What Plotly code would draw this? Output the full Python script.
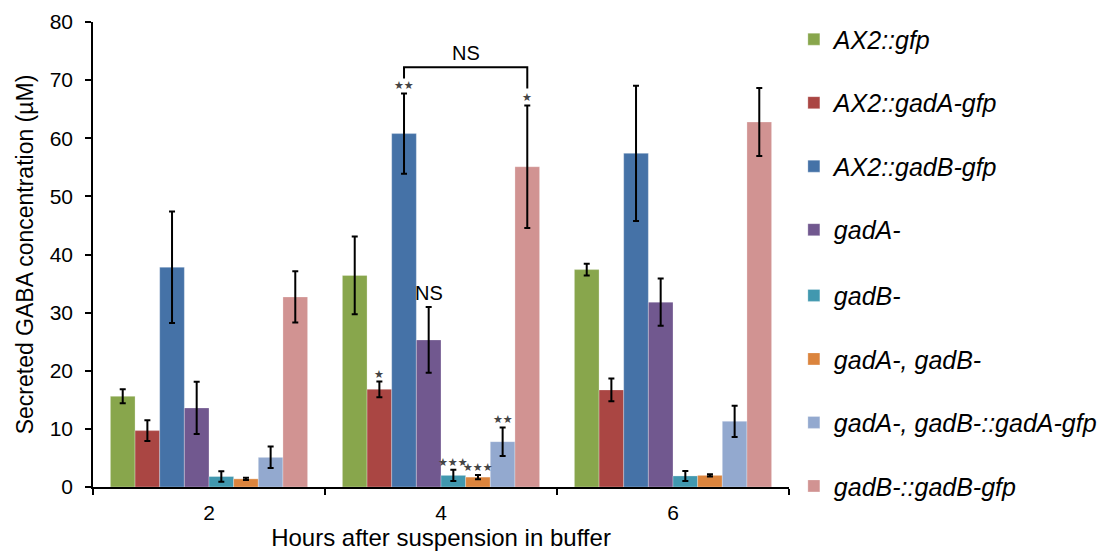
import plotly.graph_objects as go

categories = ["2", "4", "6"]
series_names = [
    "AX2::gfp", "AX2::gadA-gfp", "AX2::gadB-gfp", "gadA-", "gadB-",
    "gadA-, gadB-", "gadA-, gadB-::gadA-gfp", "gadB-::gadB-gfp",
]
colors = ["#88A64C", "#AA4643", "#4572A7", "#71588F", "#4198AF",
          "#DB843D", "#93A9CF", "#D19392"]

means = [
    [15.6, 36.4, 37.4],
    [9.7, 16.8, 16.7],
    [37.8, 60.8, 57.4],
    [13.6, 25.3, 31.8],
    [1.8, 2.0, 1.9],
    [1.4, 1.7, 2.0],
    [5.1, 7.8, 11.3],
    [32.7, 55.1, 62.8],
]
errors = [
    [1.2, 6.7, 1.0],
    [1.8, 1.35, 1.95],
    [9.6, 6.9, 11.65],
    [4.5, 5.65, 4.05],
    [0.9, 0.95, 0.85],
    [0.2, 0.35, 0.2],
    [1.85, 2.45, 2.7],
    [4.4, 10.55, 5.85],
]
# significance labels at the 4 h time point (index 1)
sig_labels = ["", "*", "**", "NS", "***", "***", "**", "*"]
sig_cat = 1
bracket_pair = (2, 7)
bracket_label = "NS"

FONT = "Arial, Liberation Sans, sans-serif"
STAR_FONT = "DejaVu Sans, sans-serif"

fig = go.Figure()
for k, (name, col, m, e) in enumerate(zip(series_names, colors, means, errors)):
    fig.add_trace(go.Bar(
        name=name, x=categories, y=m,
        marker=dict(color=col, line=dict(color="rgba(255,255,255,0.35)", width=0.8)),
        error_y=dict(type="data", array=e, color="black", thickness=2, width=3),
        legendgroup=name,
        legend="legend" if k < 4 else "legend2",
    ))

bargap = 0.15
n = len(series_names)
bw = (1 - bargap) / n


def bar_x(cat_idx, s_idx):
    return cat_idx - (1 - bargap) / 2 + bw * (s_idx + 0.5)


annotations = []
for i, lab in enumerate(sig_labels):
    if not lab:
        continue
    top = means[i][sig_cat] + errors[i][sig_cat]
    if lab == "NS":
        annotations.append(dict(x=bar_x(sig_cat, i), y=top, xref="x", yref="y",
                                text="NS", showarrow=False, yanchor="bottom", yshift=1,
                                font=dict(family=FONT, size=20, color="black")))
    else:
        annotations.append(dict(x=bar_x(sig_cat, i), y=top, xref="x", yref="y",
                                text="★" * len(lab), showarrow=False, yanchor="bottom",
                                yshift=-1,
                                font=dict(family=STAR_FONT, size=11, color="#444444")))

a, b = bracket_pair
xa, xb = bar_x(sig_cat, a), bar_x(sig_cat, b)
ya = means[a][sig_cat] + errors[a][sig_cat] + 2.6
yb = means[b][sig_cat] + errors[b][sig_cat] + 2.9
yh = max(ya, yb) + 1.9
fig.add_shape(type="path", xref="x", yref="y",
              path=f"M {xa},{ya} L {xa},{yh} L {xb},{yh} L {xb},{yb}",
              line=dict(color="black", width=2))
annotations.append(dict(x=(xa + xb) / 2, y=yh, xref="x", yref="y", text=bracket_label,
                        showarrow=False, yanchor="bottom", yshift=1,
                        font=dict(family=FONT, size=20, color="black")))

legend_common = dict(xanchor="left", yanchor="top",
                     font=dict(family=FONT, size=25, color="black", style="italic"),
                     traceorder="grouped", tracegroupgap=28, itemwidth=30,
                     bgcolor="rgba(0,0,0,0)")

fig.update_layout(
    width=1109, height=553,
    margin=dict(l=93, r=320, t=22, b=66, autoexpand=False),
    paper_bgcolor="white", plot_bgcolor="white",
    barmode="group", bargap=bargap, bargroupgap=0,
    font=dict(family=FONT, color="black"),
    annotations=annotations,
    legend=dict(x=1.007, y=1.012, **legend_common),
    legend2=dict(x=1.007, y=0.461, **legend_common),
)
fig.update_xaxes(
    type="category", showline=True, linecolor="black", linewidth=1.5,
    ticks="outside", ticklen=6, tickcolor="black", tickwidth=1.5,
    tickson="boundaries", tickfont=dict(size=21, color="black"), ticklabelstandoff=6,
    title=dict(text="Hours after suspension in buffer", font=dict(size=24), standoff=3),
    showgrid=False,
)
fig.update_yaxes(
    range=[0, 80], dtick=10, showline=True, linecolor="black", linewidth=1.5,
    ticks="outside", ticklen=6, tickcolor="black", tickwidth=1.5,
    tickfont=dict(size=21, color="black"), ticklabelstandoff=8,
    title=dict(text="Secreted GABA concentration (µM)", font=dict(size=23), standoff=10),
    showgrid=False, zeroline=False,
)

fig.write_html("out.html")
